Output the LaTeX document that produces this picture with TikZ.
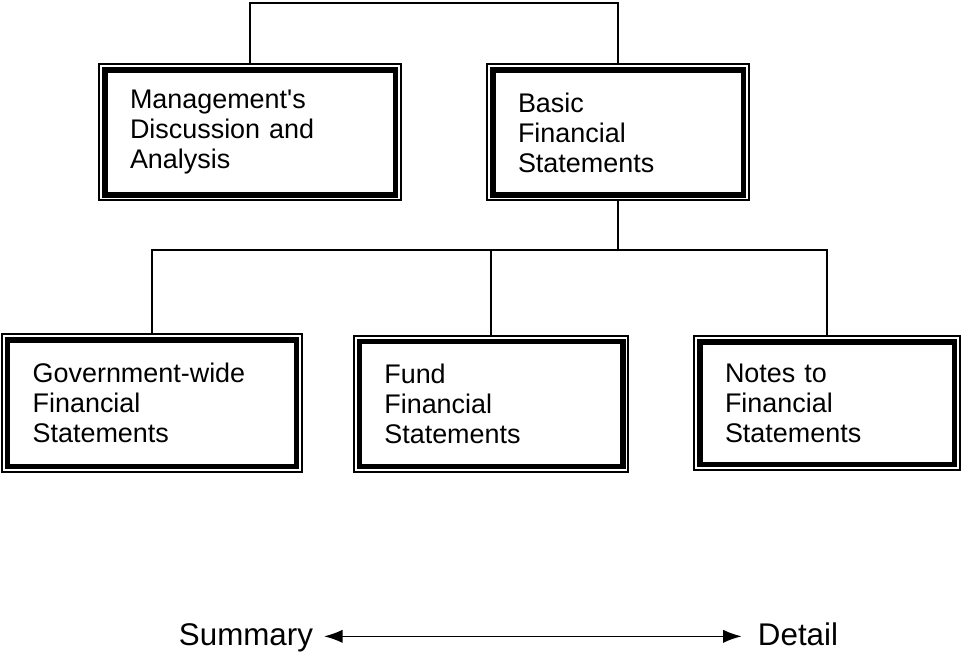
\documentclass[tikz,border=0pt]{standalone}
\usepackage{fontspec}
\setmainfont{Liberation Sans}
\usetikzlibrary{positioning,arrows.meta}

\begin{document}
\begin{tikzpicture}[
    x=0.75pt, y=-0.75pt,
    % define styles
    frame/.style={
        draw,
        line width=1.5pt,
        inner xsep=23pt,
        inner ysep=0pt,
        minimum height=102pt,
        align=left,
        font=\fontsize{20.2}{22.5}\selectfont
    },
    inframe/.style={
        line width=4pt
    },
    link/.style={
        line width=1.2pt
    },
    tag/.style={
        inner sep=0pt,
        anchor=base,
        font=\fontsize{23.5}{26}\selectfont
    }
]
\useasboundingbox (0,0) rectangle (962,652);

% Top row
\node[frame, minimum width=226pt, text width=180pt] at (250,132.5) (mda)
    {Management\textquotesingle s\\Discussion and\\Analysis};
\node[frame, minimum width=196pt, text width=150pt] at (618,132.5) (bfs)
    {Basic\\Financial\\Statements};

% Bottom row
\node[frame, minimum width=225pt, text width=179pt, minimum height=103pt] at (152,403) (gov)
    {Government-wide\\Financial\\Statements};
\node[frame, minimum width=206pt, text width=160pt] at (491,404) (fund)
    {Fund\\Financial\\Statements};
\node[frame, minimum width=199pt, text width=153pt, minimum height=100pt] at (827,403) (notes)
    {Notes to\\Financial\\Statements};

% Thick inner frames
\foreach \b in {mda,bfs,gov,fund,notes}
    \draw[inframe] ([shift={(6.5,6.5)}]\b.north west) rectangle ([shift={(-6.5,-6.5)}]\b.south east);

% Connectors
\coordinate (top) at (434,3);
\coordinate (bar) at (490,250);
\draw[link] (mda.north) |- (top) -| (bfs.north);
\draw[link] (bfs.south) -- (bfs.south|-bar);
\draw[link] (gov.north) |- (notes.north|-bar) -- (notes.north);
\draw[link] (fund.north) -- (fund.north|-bar);

% Summary / Detail scale
\node[tag] at (246,645) (sum) {Summary};
\node[tag] at (798,645) (det) {Detail};
\draw[link, {Latex[length=14pt,width=10pt]}-{Latex[length=14pt,width=10pt]}]
    ([xshift=8pt,yshift=6.5pt]sum.base east) -- ([xshift=-12pt,yshift=6.5pt]det.base west);
\end{tikzpicture}
\end{document}
